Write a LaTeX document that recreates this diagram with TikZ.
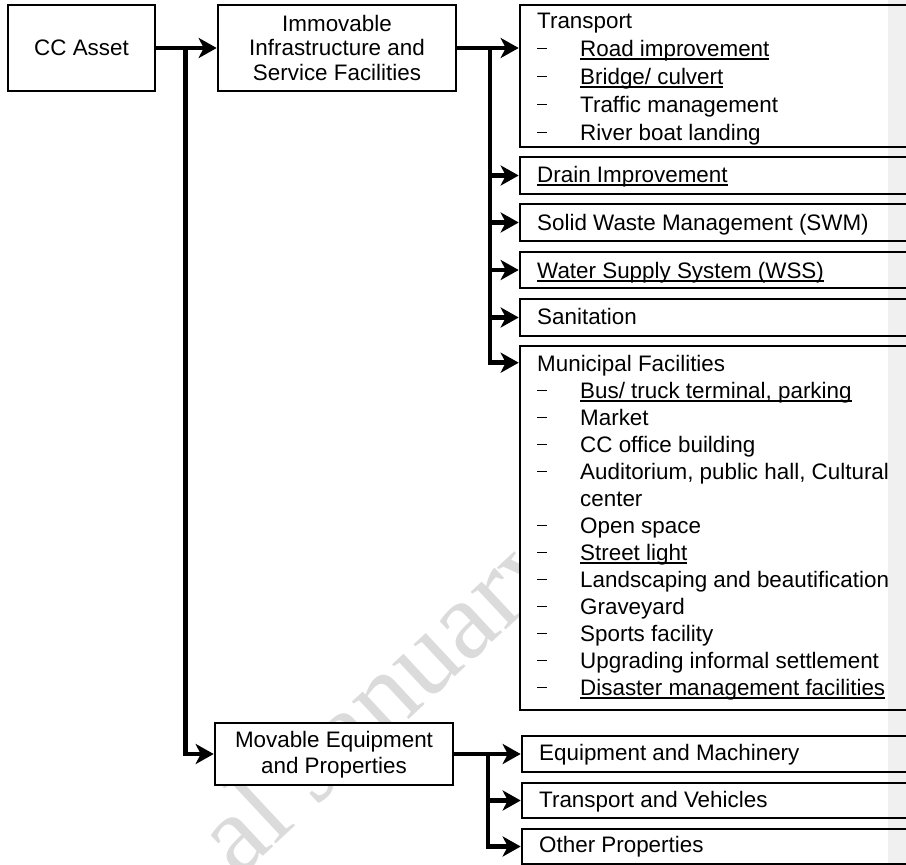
\documentclass[tikz,border=0pt]{standalone}
\usepackage{fontspec}
\setmainfont{Liberation Sans}
\newfontfamily\wmfont{Liberation Serif}
\usetikzlibrary{arrows.meta,calc}
\newcommand{\ulx}[1]{{\setbox0=\hbox{#1}\rlap{\rule[-3.6pt]{\wd0}{1.6pt}}\box0}}
\newcommand{\dl}[1]{\hbox{\makebox[43pt][l]{\raisebox{7pt}{\rule{9.5pt}{1.2pt}}}#1}}
\newcommand{\cl}[1]{\hbox{\hspace{43pt}#1}}
\begin{document}
\begin{tikzpicture}[x=1pt,y=-1pt,
  box/.style={draw, line width=2.6pt, fill=white, inner sep=0pt},
  txt/.style={inner sep=0pt, anchor=base west},
  ctxt/.style={inner sep=0pt, anchor=base},
  conn/.style={line width=4.5pt, line join=miter},
  arr/.style={conn, -{Stealth[length=18pt,width=20pt,inset=5pt]}},
  font=\fontsize{22.4}{27.5}\selectfont]
\useasboundingbox (0,0) rectangle (906,865);
\clip (0,0) rectangle (906,865);
% watermark
\node[rotate=43, anchor=base west, inner sep=0pt, text=black!14,
      font=\wmfont\fontsize{112}{112}\selectfont] (wm) at (238,880) {al January};
% boxes
\node[box, minimum width=147pt, minimum height=86pt] (cc)  at (81.5,48) {};
\node[box, minimum width=238pt, minimum height=86pt] (imm) at (337,48) {};
\node[box, minimum width=238pt, minimum height=62pt] (mov) at (334,754) {};
\node[box, minimum width=480pt, minimum height=142pt] (tr)  at (760,76) {};
\node[box, minimum width=480pt, minimum height=37pt] (dr)  at (760,175.5) {};
\node[box, minimum width=480pt, minimum height=37pt] (swm) at (760,222.5) {};
\node[box, minimum width=480pt, minimum height=36pt] (wss) at (760,270) {};
\node[box, minimum width=480pt, minimum height=37pt] (san) at (760,317.5) {};
\node[box, minimum width=480pt, minimum height=364pt] (mun) at (760,528) {};
\node[box, minimum width=478pt, minimum height=36pt] (eq)  at (761,754) {};
\node[box, minimum width=478pt, minimum height=35pt] (tv)  at (761,800.5) {};
\node[box, minimum width=478pt, minimum height=35pt] (ot)  at (761,846.5) {};
% texts
\node[ctxt] (cct) at (81.5,55) {CC Asset};
\node[ctxt] (immt) at (337,31) {\vtop{\baselineskip=24.7pt\halign{\hfil#\hfil\cr Immovable\cr Infrastructure and\cr Service Facilities\cr}}};
\node[ctxt] (movt) at (334,747) {\vtop{\baselineskip=26pt\halign{\hfil#\hfil\cr Movable Equipment\cr and Properties\cr}}};
\node[txt] (trt) at (537,28) {\vtop{\baselineskip=28pt
  \hbox{Transport}
  \dl{\ulx{Road improvement}}
  \dl{\ulx{Bridge/ culvert}}
  \dl{Traffic management}
  \dl{River boat landing}}};
\node[txt] (drt)  at (537,182) {\ulx{Drain Improvement}};
\node[txt] (swmt) at (537,230) {Solid Waste Management (SWM)};
\node[txt] (wsst) at (537,278) {\ulx{Water Supply System (WSS)}};
\node[txt] (sant) at (537,324) {Sanitation};
\node[txt] (munt) at (537,371) {\vtop{\baselineskip=27pt
  \hbox{Municipal Facilities}
  \dl{\ulx{Bus/ truck terminal, parking}}
  \dl{Market}
  \dl{CC office building}
  \dl{Auditorium, public hall, Cultural}
  \cl{center}
  \dl{Open space}
  \dl{\ulx{Street light}}
  \dl{Landscaping and beautification}
  \dl{Graveyard}
  \dl{Sports facility}
  \dl{Upgrading informal settlement}
  \dl{\ulx{Disaster management facilities}}}};
\node[txt] (eqt) at (539,760) {Equipment and Machinery};
\node[txt] (tvt) at (539,807) {Transport and Vehicles};
\node[txt] (ott) at (539,852) {Other Properties};
% junctions
\coordinate (j1) at ($(cc.east)!0.5!(imm.west)+(-1,0)$);
\coordinate (j2) at (490,48);
\coordinate (j3) at (488,754);
\coordinate (trin) at (tr.west |- imm.east);
\coordinate (munin) at ($(mun.north west)+(0,18)$);
\coordinate (otin) at (ot.west);
% connectors
\draw[arr] (cc.east) -- (imm.west);
\draw[arr] (j1) |- (mov.west);
\draw[arr] (imm.east) -- (trin);
\draw[arr] (j2) |- (munin);
\draw[arr] (j2 |- dr.west) -- (dr.west);
\draw[arr] (j2 |- swm.west) -- (swm.west);
\draw[arr] (j2 |- wss.west) -- (wss.west);
\draw[arr] (j2 |- san.west) -- (san.west);
\draw[arr] (mov.east) -- (eq.west);
\draw[arr] (j3) |- (tv.west);
\draw[arr] (j3) |- (otin);
% right page-edge shading
\fill[black, fill opacity=0.06] (888,0) rectangle (906,865);
\end{tikzpicture}
\end{document}
